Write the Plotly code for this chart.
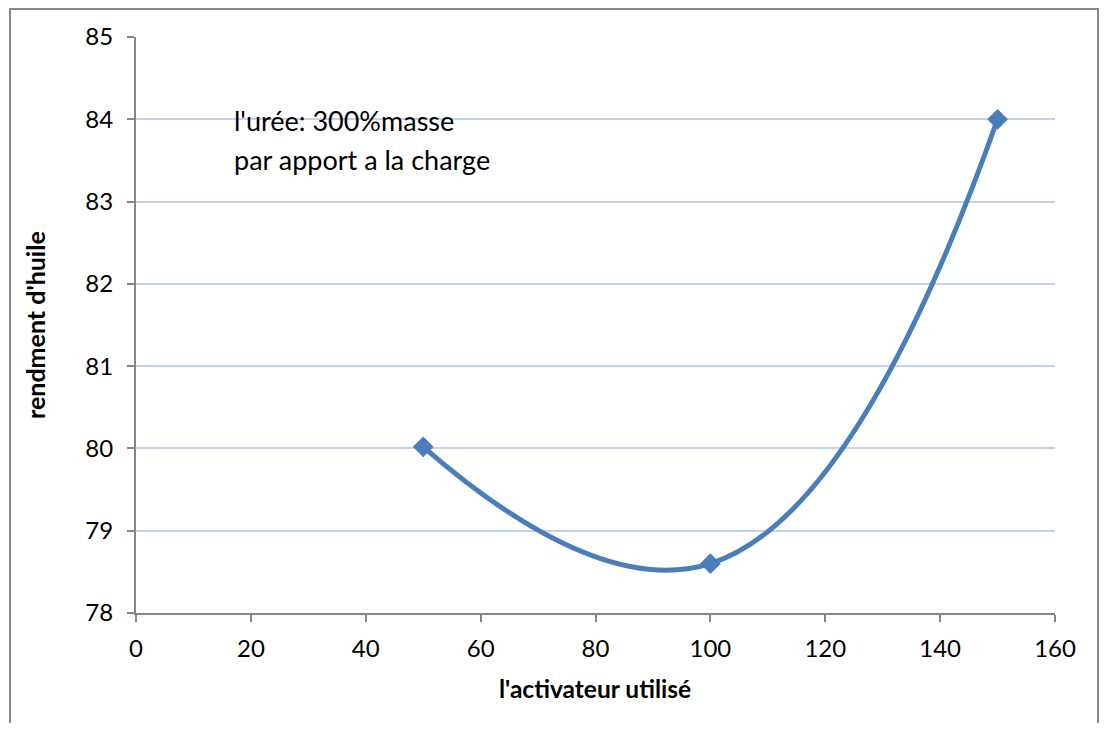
import plotly.graph_objects as go

activateur = [50, 100, 150]
rendement = [80.02, 78.6, 84.0]
x_ticks = [0, 20, 40, 60, 80, 100, 120, 140, 160]
y_ticks = [78, 79, 80, 81, 82, 83, 84, 85]

FONT = "Lato"
BLUE = "#4a7ebb"

# page body has 8px margin: figure starts at (8, 8)
OFF = 8
W = 1108 - 2 * OFF
H = 731 - 2 * OFF
fig = go.Figure()
fig.add_trace(go.Scatter(
    x=activateur, y=rendement, mode="lines+markers",
    line=dict(color=BLUE, width=5, shape="spline", smoothing=1.3),
    marker=dict(symbol="diamond", size=16, color=BLUE),
    showlegend=False, hoverinfo="skip"))

PW = 1055 - 136
PH = 613 - 37

fig.update_layout(
    width=W, height=H,
    margin=dict(l=136 - OFF, r=(OFF + W) - 1055, t=37 - OFF, b=(OFF + H) - 613),
    paper_bgcolor="white", plot_bgcolor="white",
    font=dict(family=FONT, color="black"),
    xaxis=dict(range=[0, 160], tickvals=x_ticks, showgrid=False, zeroline=False,
               showline=True, linecolor="#868686", linewidth=2,
               ticks="outside", ticklen=7, tickcolor="#868686", tickwidth=2,
               ticklabelstandoff=6,
               tickfont=dict(size=24, family=FONT)),
    yaxis=dict(range=[78, 85], tickvals=y_ticks, showgrid=True, gridcolor="#c5d3ea", gridwidth=2,
               zeroline=False, showline=True, linecolor="#868686", linewidth=2,
               ticks="outside", ticklen=7, tickcolor="#868686", tickwidth=2,
               ticklabelstandoff=9,
               tickfont=dict(size=24, family=FONT)),
)

# axis titles
fig.add_annotation(x=(595 - 136) / PW, y=(613 - 688) / PH, xref="paper", yref="paper",
                   xanchor="center", yanchor="middle", showarrow=False,
                   text="<b>l'activateur utilisé</b>", font=dict(size=24.5, family=FONT))
fig.add_annotation(x=(35 - 136) / PW, y=(613 - 325) / PH, xref="paper", yref="paper",
                   xanchor="center", yanchor="middle", showarrow=False, textangle=-90,
                   text="<b>rendment d'huile</b>", font=dict(size=25, family=FONT))

for line, ypix in [("l'urée: 300%masse", 120), ("par apport a la charge", 160)]:
    fig.add_annotation(
        x=(232 - 136) / PW, y=(613 - ypix) / PH, xref="paper", yref="paper",
        xanchor="left", yanchor="middle", align="left", showarrow=False,
        text=line, font=dict(size=27, family=FONT, color="black"))

fig.add_shape(type="rect", xref="paper", yref="paper",
              x0=(10 - 136) / PW, x1=(OFF + W - 2 - 136) / PW,
              y0=-0.3, y1=(613 - 9) / PH,
              line=dict(color="#888888", width=2), layer="below")

fig.write_html("out.html")
